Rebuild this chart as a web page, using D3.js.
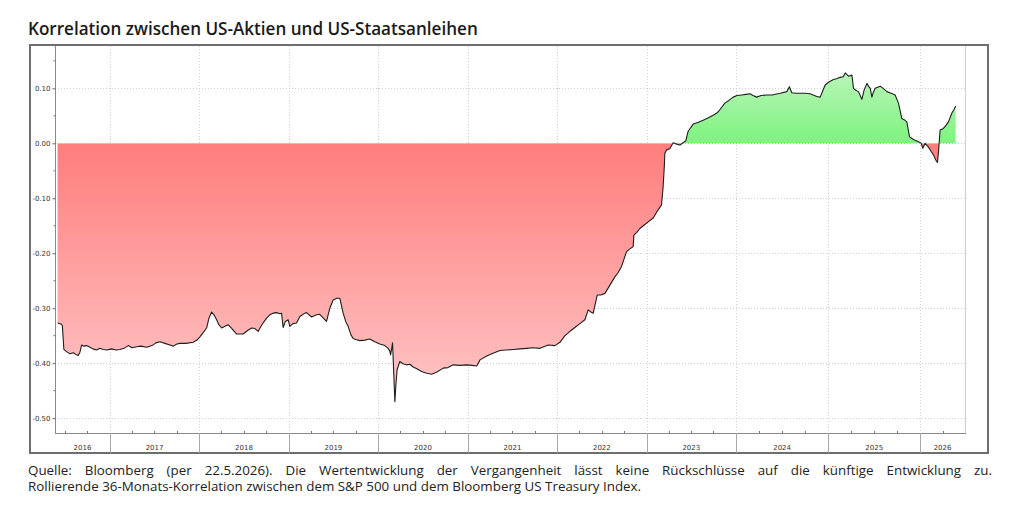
<!DOCTYPE html>
<html><head><meta charset="utf-8">
<script src="https://cdn.jsdelivr.net/npm/d3@7"></script>
<style>body{margin:0;background:#fff}svg{display:block}</style>
</head><body><svg id="c" width="1024" height="508"></svg>
<script>
// ---------- data ----------
const titleText = "Korrelation zwischen US-Aktien und US-Staatsanleihen";
const footLine1 = "Quelle: Bloomberg (per 22.5.2026). Die Wertentwicklung der Vergangenheit lässt keine Rückschlüsse auf die künftige Entwicklung zu.";
const footLine2 = "Rollierende 36-Monats-Korrelation zwischen dem S&P 500 und dem Bloomberg US Treasury Index.";
const yearLabels = ["2016","2017","2018","2019","2020","2021","2022","2023","2024","2025","2026"];
const yTickValues = [0.10, 0.00, -0.10, -0.20, -0.30, -0.40, -0.50];
// observation dates as decimal years
const obsYears = [
2016.417,2016.461,2016.470,2016.487,2016.517,2016.554,2016.591,2016.621,2016.647,2016.666,
2016.685,2016.711,2016.741,2016.778,2016.811,2016.852,2016.889,2016.926,2016.968,2017.020,
2017.068,2017.113,2017.158,2017.206,2017.247,2017.300,2017.348,2017.411,2017.471,2017.515,
2017.560,2017.616,2017.672,2017.709,2017.750,2017.784,2017.851,2017.932,2017.974,2018.007,
2018.041,2018.082,2018.108,2018.138,2018.164,2018.194,2018.219,2018.250,2018.287,2018.323,
2018.365,2018.417,2018.454,2018.491,2018.544,2018.585,2018.622,2018.659,2018.700,2018.753,
2018.789,2018.826,2018.864,2018.901,2018.920,2018.938,2018.963,2018.994,2019.013,2019.047,
2019.088,2019.125,2019.181,2019.200,2019.256,2019.311,2019.348,2019.382,2019.423,2019.460,
2019.497,2019.538,2019.572,2019.609,2019.639,2019.665,2019.695,2019.721,2019.751,2019.795,
2019.851,2019.907,2019.963,2020.019,2020.075,2020.112,2020.131,2020.139,2020.153,2020.161,
2020.170,2020.187,2020.198,2020.212,2020.242,2020.276,2020.317,2020.354,2020.391,2020.432,
2020.485,2020.533,2020.597,2020.656,2020.726,2020.779,2020.838,2020.913,2020.988,2021.047,
2021.100,2021.137,2021.212,2021.282,2021.360,2021.427,2021.509,2021.584,2021.659,2021.729,
2021.807,2021.900,2021.975,2022.031,2022.087,2022.143,2022.198,2022.254,2022.310,2022.347,
2022.377,2022.403,2022.448,2022.489,2022.534,2022.590,2022.645,2022.679,2022.720,2022.776,
2022.813,2022.850,2022.858,2022.891,2022.925,2022.970,2023.018,2023.074,2023.129,2023.167,
2023.185,2023.199,2023.204,2023.223,2023.260,2023.297,2023.327,2023.372,2023.409,2023.439,
2023.465,2023.521,2023.573,2023.632,2023.685,2023.744,2023.786,2023.819,2023.875,2023.920,
2023.968,2024.011,2024.062,2024.109,2024.152,2024.185,2024.225,2024.272,2024.334,2024.391,
2024.478,2024.551,2024.579,2024.605,2024.652,2024.696,2024.750,2024.804,2024.877,2024.913,
2024.940,2024.967,2025.011,2025.058,2025.098,2025.130,2025.163,2025.185,2025.221,2025.258,
2025.275,2025.304,2025.329,2025.366,2025.391,2025.421,2025.438,2025.457,2025.475,2025.489,
2025.511,2025.565,2025.598,2025.638,2025.685,2025.728,2025.764,2025.801,2025.826,2025.855,
2025.884,2025.927,2025.982,2026.011,2026.029,2026.054,2026.090,2026.120,2026.145,2026.168,
2026.188,2026.201,2026.217,2026.253,2026.283,2026.308,2026.345,2026.370,2026.386
];
const correlation = [
-0.327,-0.329,-0.332,-0.375,-0.379,-0.383,-0.381,-0.384,-0.386,-0.380,
-0.367,-0.369,-0.368,-0.371,-0.374,-0.376,-0.373,-0.375,-0.376,-0.374,
-0.376,-0.375,-0.373,-0.368,-0.372,-0.370,-0.369,-0.371,-0.368,-0.363,
-0.361,-0.364,-0.367,-0.369,-0.365,-0.364,-0.364,-0.362,-0.358,-0.352,
-0.345,-0.336,-0.318,-0.307,-0.312,-0.321,-0.330,-0.336,-0.333,-0.330,
-0.337,-0.347,-0.347,-0.347,-0.340,-0.336,-0.337,-0.342,-0.330,-0.318,
-0.312,-0.309,-0.308,-0.310,-0.309,-0.335,-0.324,-0.321,-0.333,-0.328,
-0.327,-0.315,-0.309,-0.308,-0.316,-0.312,-0.311,-0.317,-0.324,-0.300,
-0.285,-0.282,-0.282,-0.309,-0.325,-0.333,-0.348,-0.355,-0.357,-0.359,
-0.358,-0.356,-0.361,-0.365,-0.368,-0.373,-0.378,-0.385,-0.372,-0.363,
-0.400,-0.470,-0.440,-0.412,-0.397,-0.401,-0.403,-0.402,-0.407,-0.410,
-0.415,-0.418,-0.420,-0.416,-0.409,-0.408,-0.403,-0.404,-0.403,-0.404,
-0.405,-0.394,-0.387,-0.382,-0.377,-0.376,-0.375,-0.374,-0.373,-0.372,
-0.373,-0.367,-0.368,-0.362,-0.350,-0.342,-0.335,-0.328,-0.321,-0.303,
-0.307,-0.309,-0.276,-0.276,-0.273,-0.258,-0.243,-0.236,-0.224,-0.197,
-0.192,-0.188,-0.167,-0.162,-0.155,-0.149,-0.143,-0.136,-0.121,-0.112,
-0.079,-0.040,-0.018,-0.012,-0.010,0.001,-0.001,-0.003,0.001,0.005,
0.022,0.035,0.038,0.042,0.046,0.051,0.055,0.061,0.073,0.078,
0.084,0.087,0.088,0.089,0.090,0.087,0.084,0.087,0.088,0.088,
0.091,0.094,0.103,0.092,0.091,0.091,0.091,0.090,0.085,0.084,
0.095,0.106,0.112,0.116,0.118,0.120,0.121,0.128,0.122,0.124,
0.100,0.096,0.094,0.080,0.097,0.109,0.104,0.100,0.084,0.092,
0.100,0.104,0.100,0.094,0.091,0.088,0.073,0.045,0.043,0.039,
0.012,0.007,0.003,0.000,-0.009,0.000,-0.007,-0.015,-0.021,-0.030,
-0.035,-0.012,0.024,0.027,0.033,0.039,0.055,0.062,0.068
];

// ---------- helpers ----------
function decYearToDate(y){
  const yr = Math.floor(y);
  const s = Date.UTC(yr,0,1), e = Date.UTC(yr+1,0,1);
  return new Date(s + (y-yr)*(e-s));
}
const data = obsYears.map((t,i)=>({date:decYearToDate(t), v:correlation[i]}));

const svg = d3.select("#c");
const frame = {x:30, y:45, w:958, h:408};
const plot = {l:55, r:965, t:46, b:433};

// x scale (axis spacing in the source is slightly wider after 2024)
const x = d3.scaleUtc()
  .domain([new Date(Date.UTC(2016,4,22)), new Date(Date.UTC(2024,0,1)), new Date(Date.UTC(2026,5,28))])
  .range([plot.l, 736, plot.r]);
const y = d3.scaleLinear().domain([-0.527, 0.177]).range([plot.b, plot.t]);

const loc = d3.formatLocale({decimal:".", thousands:",", grouping:[3], currency:["",""], minus:"-"});
const fmt = loc.format(".2f");

// defs
const defs = svg.append("defs");
const gRed = defs.append("linearGradient").attr("id","gRed")
  .attr("gradientUnits","userSpaceOnUse").attr("x1",0).attr("x2",0)
  .attr("y1",y(0)).attr("y2",y(-0.47));
gRed.append("stop").attr("offset",0).attr("stop-color","#ff7d7d");
gRed.append("stop").attr("offset",1).attr("stop-color","#ffc6c6");
const gGreen = defs.append("linearGradient").attr("id","gGreen")
  .attr("gradientUnits","userSpaceOnUse").attr("x1",0).attr("x2",0)
  .attr("y1",y(0)).attr("y2",y(0.13));
gGreen.append("stop").attr("offset",0).attr("stop-color","#7df47d");
gGreen.append("stop").attr("offset",1).attr("stop-color","#b9f5b9");
defs.append("clipPath").attr("id","clipPos").append("rect")
  .attr("x",plot.l).attr("y",plot.t).attr("width",plot.r-plot.l).attr("height",y(0)-plot.t);
defs.append("clipPath").attr("id","clipNeg").append("rect")
  .attr("x",plot.l).attr("y",y(0)).attr("width",plot.r-plot.l).attr("height",plot.b-y(0));

// frame
svg.append("rect").attr("x",frame.x).attr("y",frame.y).attr("width",frame.w).attr("height",frame.h)
  .attr("fill","none").attr("stroke","#6e6e6e").attr("stroke-width",2);

// title
svg.append("text").attr("id","title").attr("x",28).attr("y",35)
  .attr("font-family","'Open Sans', sans-serif").attr("font-weight",600)
  .attr("font-size",17).attr("fill","#1a1a1a").text(titleText);
(function fitTitle(){
  const t = svg.select("#title"); const w = t.node().getComputedTextLength();
  t.attr("font-size", 17*450/w);
})();

// gridlines
const grid = svg.append("g").attr("stroke","#cfcfcf").attr("stroke-width",1).attr("stroke-dasharray","1,2");
const yearStarts = yearLabels.slice(1).map(s=>new Date(Date.UTC(+s,0,1)));
grid.selectAll("line.v").data(yearStarts).join("line")
  .attr("x1",d=>Math.round(x(d))+0.5).attr("x2",d=>Math.round(x(d))+0.5)
  .attr("y1",plot.t).attr("y2",plot.b);
grid.selectAll("line.h").data(yTickValues).join("line")
  .attr("x1",plot.l).attr("x2",plot.r)
  .attr("y1",d=>Math.round(y(d))+0.5).attr("y2",d=>Math.round(y(d))+0.5);

// areas
const area = d3.area().x(d=>x(d.date)).y0(y(0)).y1(d=>y(d.v));
svg.append("path").datum(data).attr("d",area).attr("fill","url(#gRed)").attr("clip-path","url(#clipNeg)");
svg.append("path").datum(data).attr("d",area).attr("fill","url(#gGreen)").attr("clip-path","url(#clipPos)");
// line
svg.append("path").datum(data).attr("d",d3.line().x(d=>x(d.date)).y(d=>y(d.v)))
  .attr("fill","none").attr("stroke","#1e1e1e").attr("stroke-width",1.1).attr("stroke-linejoin","round");

// plot right border
svg.append("line").attr("x1",plot.r+0.5).attr("x2",plot.r+0.5).attr("y1",plot.t).attr("y2",plot.b)
  .attr("stroke","#d0d0d0");

// y axis
const yAxis = d3.axisLeft(y).tickValues(yTickValues).tickSize(3).tickPadding(2).tickFormat(fmt);
const ya = svg.append("g").attr("transform",`translate(${plot.l+0.5},0)`).call(yAxis);
ya.select(".domain").attr("stroke","#8a8a8a").attr("d",`M0,${plot.t}V${plot.b}`);
ya.selectAll(".tick line").attr("stroke","#666");
ya.selectAll(".tick text").attr("font-family","'DejaVu Sans', sans-serif").attr("font-size",7).attr("fill","#333");
const yMinor = d3.range(-0.45, 0.2, 0.1).map(v=>+v.toFixed(2));
ya.selectAll("line.minor").data(yMinor).join("line").attr("class","minor")
  .attr("x1",-2).attr("x2",0).attr("y1",d=>y(d)).attr("y2",d=>y(d)).attr("stroke","#777");

// x axis line and quarterly ticks
svg.append("line").attr("x1",plot.l).attr("x2",plot.r+1).attr("y1",plot.b+0.5).attr("y2",plot.b+0.5).attr("stroke","#8a8a8a");
const quarters = d3.utcMonth.every(3).range(x.domain()[0], x.domain()[2]).filter(d=>d.getUTCMonth()!==0);
svg.append("g").selectAll("line").data(quarters).join("line")
  .attr("x1",d=>Math.round(x(d))+0.5).attr("x2",d=>Math.round(x(d))+0.5)
  .attr("y1",plot.b-2).attr("y2",plot.b).attr("stroke","#777");

// year bands
const bandG = svg.append("g");
bandG.selectAll("line").data(yearStarts).join("line")
  .attr("x1",d=>Math.round(x(d))+0.5).attr("x2",d=>Math.round(x(d))+0.5)
  .attr("y1",plot.b).attr("y2",frame.y+frame.h).attr("stroke","#a8a8a8");
bandG.selectAll("text").data(yearLabels).join("text")
  .attr("x",s=>{
    const a = Math.max(plot.l, x(new Date(Date.UTC(+s,0,1))));
    const b = Math.min(plot.r, x(new Date(Date.UTC(+s+1,0,1))));
    return (a+b)/2;})
  .attr("y",450).attr("text-anchor","middle")
  .attr("font-family","'DejaVu Sans', sans-serif").attr("font-size",7).attr("fill","#333").text(s=>s);

// footer
const footFont = "'Open Sans', sans-serif";
const l2 = svg.append("text").attr("x",28).attr("y",491).attr("font-family",footFont)
  .attr("font-size",14).attr("fill","#222").text(footLine2);
const fs = 14*614/l2.node().getComputedTextLength();
l2.attr("font-size",fs);
const words = footLine1.split(" ");
const wg = svg.append("g").attr("font-family",footFont).attr("font-size",fs).attr("fill","#222");
const wEls = words.map(w=>wg.append("text").attr("y",475).text(w));
const widths = wEls.map(e=>e.node().getComputedTextLength());
const gap = (992-28-d3.sum(widths))/(words.length-1);
let cx = 28;
wEls.forEach((e,i)=>{e.attr("x",cx); cx += widths[i]+gap;});
</script></body></html>
